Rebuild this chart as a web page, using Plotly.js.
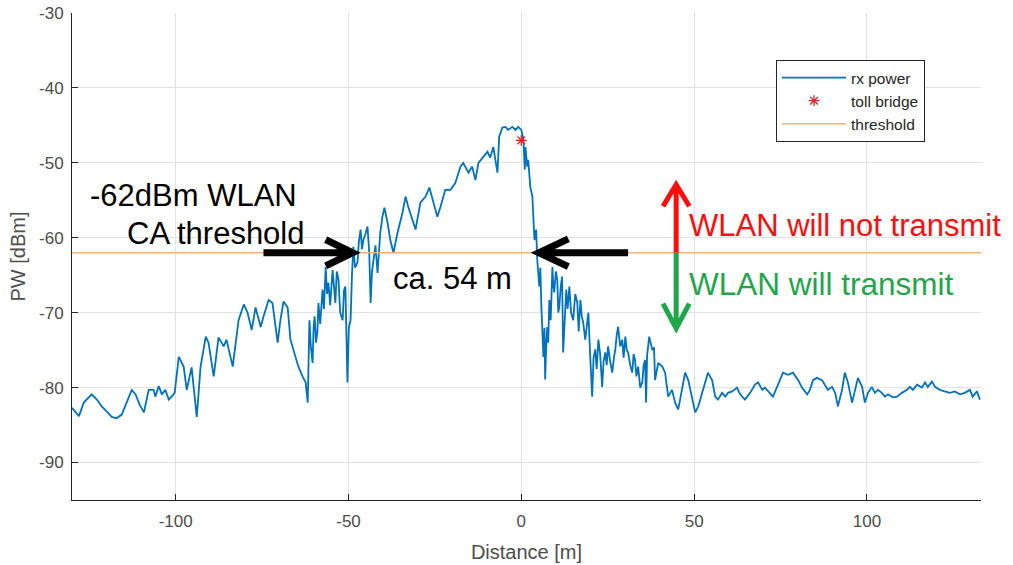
<!DOCTYPE html>
<html>
<head>
<meta charset="utf-8">
<script src="https://cdn.plot.ly/plotly-3.0.1.min.js"></script>
<style>
  html, body { margin: 0; padding: 0; background: #ffffff; }
  #chart { width: 1013px; height: 565px; }
</style>
</head>
<body>
<div id="chart"></div>
<script>
// ---- data ----
var distance = [
  -130.0, -129.0, -128.0, -126.6, -125.7, -124.3, -122.8, -121.4, -119.9, -118.5,
  -117.1, -115.6, -114.2, -112.7, -111.6, -110.4, -109.2, -107.8, -106.4, -105.9,
  -104.9, -104.0, -103.0, -102.0, -101.2, -100.3, -99.1, -97.7, -96.8, -95.4,
  -93.9, -92.8, -91.3, -90.5, -89.0, -87.6, -86.1, -85.3, -83.5, -81.8,
  -80.3, -79.2, -78.0, -76.9, -75.4, -74.6, -73.1, -72.0, -70.5, -69.7,
  -68.8, -67.6, -66.8, -65.3, -64.5, -63.3, -62.4, -61.8,
  -61.3, -60.9, -60.4, -60.1, -59.8, -59.4, -59.0, -58.7, -58.2, -57.5,
  -57.1, -56.6, -56.2, -55.8, -55.3, -54.6, -54.2, -53.8, -53.4, -52.9,
  -52.4, -51.7, -51.3, -50.9, -50.6, -50.3, -49.9, -49.4, -49.0, -48.6,
  -48.1, -47.4, -47.0, -46.5, -46.1, -45.7, -45.1, -44.5, -44.0, -43.6,
  -43.2, -42.8, -42.2, -41.6, -41.2, -40.8,
  -40.2, -39.6, -38.7, -37.9, -37.0, -35.8, -34.4, -33.5,
  -32.7, -31.5, -30.6, -29.2, -27.7, -26.6, -25.4, -24.3, -23.4, -22.0,
  -20.5, -19.1, -17.6, -16.8, -15.3, -14.2, -13.3, -12.4, -11.0, -9.8,
  -9.0, -8.1, -7.5, -6.9, -6.4, -5.5, -4.6, -3.8, -2.6, -1.7,
  -0.9, 0.0, 0.6, 1.0, 1.2, 1.7, 2.0, 2.6, 3.2, 3.5,
  3.8, 4.3,
  4.6, 5.2, 5.5, 5.8, 6.1, 6.4, 6.7, 6.9, 7.2, 7.5,
  7.8, 8.1, 8.5, 9.0, 9.2, 9.5, 10.0, 10.4, 10.7, 11.0,
  11.4, 11.8, 12.1, 12.5, 13.0, 13.4, 13.9, 14.4, 15.0, 15.6,
  16.2, 16.6, 17.1, 17.5, 17.9, 18.5, 19.0, 19.4, 19.9, 20.5,
  20.9, 21.4, 21.8, 22.3, 22.8, 23.4, 23.8, 24.3, 24.7, 25.1,
  25.7, 26.3, 26.8, 27.2, 27.6, 28.0, 28.6, 29.2, 29.6, 30.1,
  30.5, 30.9, 31.5, 32.1, 32.5, 32.9, 33.3, 33.8, 34.4, 35.0,
  35.4, 35.8,
  36.1, 36.4, 37.0, 37.9, 38.4, 38.7, 39.6, 40.8, 41.6,
  42.5, 43.6, 44.5, 45.4, 46.5, 47.4, 48.3, 49.4, 50.3, 51.2,
  52.3, 53.2, 54.0, 55.2, 56.1, 56.9, 58.1, 59.0, 59.8, 61.0,
  62.4, 63.3, 64.7, 66.2, 67.6, 68.5, 69.7, 70.5, 71.4, 72.8,
  74.0, 74.9, 75.7, 77.2, 78.6, 80.1, 81.2, 82.7, 83.5, 84.4,
  85.5, 87.0, 87.9, 88.7, 89.9, 90.8, 91.6, 92.8, 93.6, 94.5,
  95.7, 96.5, 97.4, 98.6, 99.4, 100.3, 101.4, 102.3, 103.2, 104.3,
  105.2, 106.1, 107.5, 108.7, 110.1, 111.6, 112.4, 113.3, 114.5, 115.9,
  116.8, 117.6, 118.8, 119.7, 121.1, 122.5, 124.0, 125.4, 126.9, 128.3,
  129.8, 130.6, 131.8, 132.7
];
var rxPower = [
  -82.7, -83.2, -83.8, -82.0, -81.6, -80.9, -81.6, -82.5, -83.2, -83.9,
  -84.1, -83.6, -82.0, -80.3, -80.9, -82.3, -83.3, -80.3, -80.3, -81.2,
  -79.8, -80.9, -80.3, -81.6, -81.2, -80.7, -75.9, -77.2, -80.3, -77.3,
  -83.9, -77.2, -73.2, -74.0, -78.5, -73.3, -74.5, -73.6, -77.2, -71.0,
  -68.9, -70.0, -72.3, -69.3, -71.9, -70.5, -68.3, -68.7, -74.0, -71.0,
  -68.5, -69.3, -73.6, -75.9, -77.2, -78.5, -79.3, -82.0,
  -71.0, -74.5, -76.7, -72.0, -70.5, -74.0, -72.5, -68.7, -71.5, -66.9,
  -69.5, -63.9, -67.5, -66.0, -69.0, -64.3, -67.0, -68.7, -64.5, -65.6,
  -70.0, -71.0, -67.0, -66.5, -73.0, -79.3, -72.0, -71.0, -65.0, -61.2,
  -64.0, -63.3, -60.5, -58.9, -61.5, -60.3, -59.5, -58.5, -62.0, -68.7,
  -64.5, -62.9, -61.0, -64.7, -61.5, -59.3,
  -57.2, -56.0, -58.0, -60.3, -62.0, -59.3, -56.7, -54.5,
  -55.9, -57.6, -58.9, -55.3, -54.5, -53.3, -55.3, -57.2, -55.9, -53.6,
  -53.6, -52.7, -50.5, -50.0, -51.3, -50.5, -52.3, -50.0, -49.2, -48.5,
  -49.3, -47.9, -49.6, -51.3, -46.5, -45.3, -45.2, -45.6, -45.2, -45.6,
  -45.2, -45.6, -46.9, -50.9, -47.9, -50.5, -49.6, -53.2, -54.5, -57.6,
  -60.3, -58.9,
  -62.9, -66.5, -64.0, -69.2, -73.2, -75.9, -72.0, -78.9, -74.5, -71.9,
  -74.0, -68.3, -71.0, -63.9, -66.0, -67.3, -64.5, -65.6, -70.0, -69.2,
  -66.5, -65.2, -75.3, -70.5, -66.9, -69.5, -66.5, -70.0, -71.0, -67.5,
  -68.7, -72.5, -68.3, -70.5, -71.3, -73.6, -71.5, -70.0, -75.5, -81.2,
  -76.0, -74.9, -77.5, -73.6, -75.5, -79.9, -76.5, -75.3, -77.0, -74.5,
  -76.5, -78.0, -76.0, -74.9, -73.0, -71.9, -74.5, -73.6, -76.0, -73.2,
  -75.0, -75.3, -77.0, -78.0, -75.5, -76.3, -78.5, -77.2, -80.0, -79.3,
  -77.0, -76.3,
  -82.0, -75.7, -73.2, -75.0, -74.6, -79.0, -76.7, -77.2, -78.0,
  -81.2, -80.3, -82.0, -82.9, -80.3, -78.0, -79.0, -81.2, -83.3, -82.5,
  -80.7, -79.0, -78.0, -79.0, -81.2, -81.6, -80.7, -81.2, -80.7, -80.5,
  -80.0, -80.9, -81.6, -80.7, -79.6, -79.3, -80.3, -80.0, -80.5, -81.2,
  -79.9, -79.0, -78.0, -78.3, -78.0, -79.0, -80.0, -80.9, -80.3, -79.0,
  -78.7, -79.0, -79.6, -80.3, -79.9, -80.7, -82.5, -80.3, -78.0, -79.3,
  -82.0, -80.3, -78.7, -79.9, -82.0, -80.7, -79.9, -80.7, -80.3, -80.7,
  -81.2, -80.9, -81.3, -81.2, -80.7, -80.3, -79.9, -80.3, -79.6, -80.0,
  -79.3, -79.9, -79.2, -79.9, -80.3, -80.5, -80.7, -80.5, -80.9, -80.7,
  -80.3, -81.2, -80.5, -81.6
];
var bridgeDistance = [0];
var bridgePower = [-47];
var thresholdDistance = [-130, 133];
var thresholdPower = [-62, -62];
var seriesNames = ['rx power', 'toll bridge', 'threshold'];
var xTickValues = [-100, -50, 0, 50, 100];
var xTickLabels = ['-100', '-50', '0', '50', '100'];
var yTickValues = [-90, -80, -70, -60, -50, -40, -30];
var yTickLabels = ['-90', '-80', '-70', '-60', '-50', '-40', '-30'];

// ---- chart ----
var FONT = 'Liberation Sans, Arial, sans-serif';
var AXIS_TEXT = '#4d4d4d';

var traces = [
  { x: distance, y: rxPower, name: seriesNames[0], type: 'scatter', mode: 'lines',
    line: { color: '#0072BD', width: 1.8 } },
  { x: bridgeDistance, y: bridgePower, name: seriesNames[1], type: 'scatter', mode: 'markers',
    marker: { symbol: 'asterisk-open', size: 9, color: '#e8202a', line: { color: '#e8202a', width: 1.3 } } },
  { x: thresholdDistance, y: thresholdPower, name: seriesNames[2], type: 'scatter', mode: 'lines',
    line: { color: '#F2B273', width: 1.5 } }
];

function arrowPath(x0, y0, x1, y1, hx1, hy1, hx2, hy2) {
  return 'M' + x0 + ',' + y0 + 'L' + x1 + ',' + y1 +
         'M' + hx1 + ',' + hy1 + 'L' + x1 + ',' + y1 + 'L' + hx2 + ',' + hy2;
}

var shapes = [
  { type: 'path', xref: 'x', yref: 'y', path: arrowPath(-74.6, -62, -48.8, -62, -56.6, -60.25, -56.6, -63.75),
    line: { color: '#000000', width: 7 } },
  { type: 'path', xref: 'x', yref: 'y', path: arrowPath(30.9, -62, 5.1, -62, 13.6, -60.15, 13.6, -63.85),
    line: { color: '#000000', width: 7 } },
  { type: 'path', xref: 'x', yref: 'y', path: arrowPath(44.8, -62, 44.8, -52.9, 41.0, -55.8, 48.6, -55.8),
    line: { color: '#ff0d0d', width: 5 } },
  { type: 'path', xref: 'x', yref: 'y', path: arrowPath(44.8, -62, 44.8, -72.1, 41.0, -68.8, 48.6, -68.8),
    line: { color: '#1fa64a', width: 5 } }
];

var annotations = [
  { text: '-62dBm WLAN', x: -94.8, y: -54.4, xref: 'x', yref: 'y', showarrow: false,
    xanchor: 'center', yanchor: 'middle', font: { family: FONT, size: 31, color: '#000000' } },
  { text: 'CA threshold', x: -88.4, y: -59.4, xref: 'x', yref: 'y', showarrow: false,
    xanchor: 'center', yanchor: 'middle', font: { family: FONT, size: 31, color: '#000000' } },
  { text: 'ca. 54 m', x: -19.9, y: -65.4, xref: 'x', yref: 'y', showarrow: false,
    xanchor: 'center', yanchor: 'middle', font: { family: FONT, size: 31, color: '#000000' } },
  { text: 'WLAN will not transmit', x: 48.0, y: -58.3, xref: 'x', yref: 'y', showarrow: false,
    xanchor: 'left', yanchor: 'middle', font: { family: FONT, size: 31, color: '#ff0d0d' } },
  { text: 'WLAN will transmit', x: 48.0, y: -66.2, xref: 'x', yref: 'y', showarrow: false,
    xanchor: 'left', yanchor: 'middle', font: { family: FONT, size: 31.5, color: '#1fa64a' } }
];

var layout = {
  width: 1013, height: 565,
  paper_bgcolor: '#ffffff', plot_bgcolor: '#ffffff',
  margin: { l: 72, r: 32, t: 13, b: 65 },
  font: { family: FONT, color: AXIS_TEXT },
  showlegend: true,
  legend: {
    x: 0.7745, y: 0.9035, xanchor: 'left', yanchor: 'top',
    bgcolor: '#ffffff', bordercolor: '#262626', borderwidth: 1,
    font: { family: FONT, size: 15.5, color: '#262626' },
    itemwidth: 64, tracegroupgap: 0
  },
  xaxis: {
    range: [-130, 133], tickmode: 'array', tickvals: xTickValues, ticktext: xTickLabels,
    showgrid: true, gridcolor: '#e2e2e2', gridwidth: 1, zeroline: false,
    showline: true, linecolor: '#262626', linewidth: 1,
    ticks: 'inside', ticklen: 6, tickcolor: '#262626', ticklabelstandoff: 6,
    tickfont: { family: FONT, size: 17, color: AXIS_TEXT },
    title: { text: 'Distance [m]', font: { family: FONT, size: 20, color: AXIS_TEXT }, standoff: 14 }
  },
  yaxis: {
    range: [-95, -30], tickmode: 'array', tickvals: yTickValues, ticktext: yTickLabels,
    showgrid: true, gridcolor: '#e2e2e2', gridwidth: 1, zeroline: false,
    showline: true, linecolor: '#262626', linewidth: 1,
    ticks: 'inside', ticklen: 6, tickcolor: '#262626', ticklabelstandoff: 4,
    tickfont: { family: FONT, size: 17, color: AXIS_TEXT },
    title: { text: 'PW [dBm]', font: { family: FONT, size: 20, color: AXIS_TEXT }, standoff: 8 }
  },
  shapes: shapes,
  annotations: annotations
};

Plotly.newPlot('chart', traces, layout, { displayModeBar: false, staticPlot: true });
</script>
</body>
</html>
